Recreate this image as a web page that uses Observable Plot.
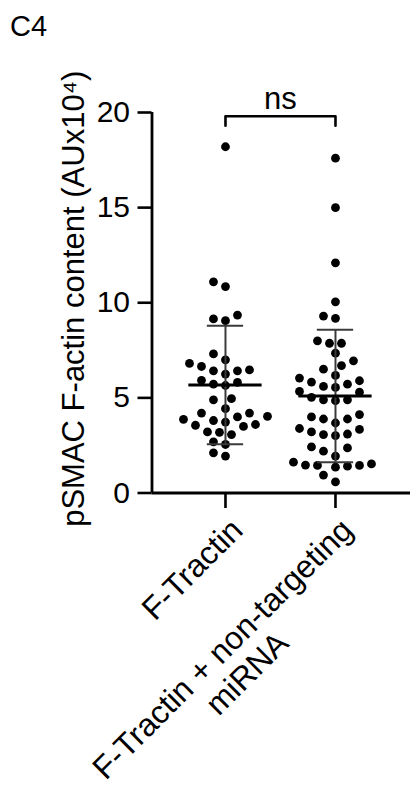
<!DOCTYPE html>
<html>
<head>
<meta charset="utf-8">
<script src="https://cdn.jsdelivr.net/npm/d3@7"></script>
<script src="https://cdn.jsdelivr.net/npm/@observablehq/plot@0.6"></script>
<style>
  html, body { margin: 0; padding: 0; background: #fff; }
  #chart { width: 417px; height: 792px; overflow: hidden; }
</style>
</head>
<body>
<div id="chart"></div>
<script>
// Categories (x axis), one label per group; "\n" breaks a label onto two lines
const groups = ["F-Tractin", "F-Tractin + non-targeting\nmiRNA"];

// pSMAC F-actin content per cell (AU x 10^4)
const fTractin = [
  18.2, 11.1, 10.85, 9.35, 9.15, 9.06,
  7.31, 7.0, 6.81, 6.65, 6.47, 6.42, 6.42, 6.25,
  5.92, 5.81, 5.72, 5.65,
  4.96, 4.9, 4.43, 4.2, 4.2, 4.03, 4.0,
  3.87, 3.81, 3.73, 3.6, 3.56, 3.5, 3.21, 3.19, 3.07,
  2.69, 2.55, 2.11, 1.94
];
const fTractinNonTargeting = [
  17.6, 15.0, 12.1, 10.05, 9.3, 9.18,
  8.0, 7.87, 7.87, 7.35,
  6.95, 6.7, 6.51, 6.18, 6.04,
  5.9, 5.83, 5.72, 5.6, 5.55, 5.34, 5.3,
  5.03, 4.9, 4.9, 4.85,
  4.12, 4.0, 3.89, 3.89, 3.68,
  3.39, 3.34, 3.21, 3.1, 3.07, 3.02,
  2.42, 2.37, 2.2, 1.94,
  1.62, 1.53, 1.47, 1.45, 1.45, 1.41, 1.36,
  0.94, 0.58
];
const series = [fTractin, fTractinNonTargeting];

// Value axis ticks, panel letter and the significance annotation
const yTicks = [0, 5, 10, 15, 20];
const yLabel = "pSMAC F-actin content (AUx10\u2074)";
const panel = "C4";
const significance = "ns";
const bracketTop = 19.8;
const bracketDrop = 0.5;

// Frame geometry
const width = 417, height = 792;
const marginLeft = 151.5, marginRight = 7, marginTop = 112, marginBottom = 299.5;
const xDomain = [-0.668, 1.682];
const yDomain = [0, 20];
const pxPerX = (width - marginLeft - marginRight) / (xDomain[1] - xDomain[0]);
const pxPerY = (height - marginTop - marginBottom) / (yDomain[1] - yDomain[0]);

const font = '"Liberation Sans", Arial, sans-serif';
const dotR = 4.4;
const tickLen = 14;

// Scatter layout: each dot (taken in value order) goes to the lane nearest
// the group centre where it does not collide with dots already placed.
function swarm(values, lane = 6, minDist = 11) {
  const order = d3.range(values.length).sort((a, b) => values[a] - values[b]);
  const placed = [];
  const offsets = new Array(values.length);
  for (const i of order) {
    const py = values[i] * pxPerY;
    for (let k = 0; k < 40; k++) {
      const cands = k === 0 ? [0] : [-k * lane, k * lane];
      const ok = cands.find(px => placed.every(p => Math.hypot(p.x - px, p.y - py) >= minDist));
      if (ok !== undefined) {
        offsets[i] = ok / pxPerX;
        placed.push({x: ok, y: py});
        break;
      }
    }
  }
  return offsets;
}

const points = series.flatMap((values, g) => {
  const off = swarm(values);
  return values.map((v, i) => ({group: g, value: v, offset: off[i]}));
});

// Mean ± SD per group
const stats = series.map((values, g) => ({
  group: g,
  mean: d3.mean(values),
  sd: d3.deviation(values)
}));

const bracket = [
  {x: 0, y: bracketTop - bracketDrop},
  {x: 0, y: bracketTop},
  {x: 1, y: bracketTop},
  {x: 1, y: bracketTop - bracketDrop}
];

// Category labels, rotated -45°: the first line ends under its tick, a
// second line is centred beneath the first
const measure = (() => {
  const ctx = document.createElement("canvas").getContext("2d");
  return (text, size) => { ctx.font = `${size}px ${font}`; return ctx.measureText(text).width; };
})();
const labelSize = 32;
const labelDx = 3, labelDy = 23, labelLead = 1.08;
const labelMarks = groups.flatMap((label, g) => {
  const [first, ...rest] = label.split("\n");
  const w1 = measure(first, labelSize);
  const marks = [Plot.text([{group: g, text: first}], {
    x: "group", y: () => 0, text: "text",
    rotate: -45, textAnchor: "end", lineAnchor: "top",
    fontSize: labelSize, fill: "black",
    dx: labelDx, dy: labelDy
  })];
  rest.forEach((line, j) => {
    const w = measure(line, labelSize);
    const back = (w1 - w) / 2;                    // shift back along the text direction
    const down = (j + 1) * labelLead * labelSize; // shift to the next line
    marks.push(Plot.text([{group: g, text: line}], {
      x: "group", y: () => 0, text: "text",
      rotate: -45, textAnchor: "end", lineAnchor: "top",
      fontSize: labelSize, fill: "black",
      dx: labelDx + Math.SQRT1_2 * (-back + down),
      dy: labelDy + Math.SQRT1_2 * (back + down)
    }));
  });
  return marks;
});

const chart = Plot.plot({
  width, height, marginLeft, marginRight, marginTop, marginBottom,
  style: {fontFamily: font, fontSize: "30px", color: "black", background: "white", overflow: "visible"},
  x: {domain: xDomain},
  y: {domain: yDomain},
  marks: [
    // axis ticks (labels drawn as text below)
    Plot.axisY({ticks: yTicks, tickSize: tickLen, strokeWidth: 2.6, tickFormat: () => "", label: null}),
    Plot.axisX({ticks: [0, 1], tickSize: 15.5, strokeWidth: 2.6, tickFormat: () => "", label: null}),
    Plot.text(yTicks, {x: () => xDomain[0], y: d => d, text: d => String(d), textAnchor: "end", dx: -(tickLen + 8), fontSize: 30, fill: "black"}),
    Plot.ruleX([xDomain[0]], {y1: yDomain[0], y2: yDomain[1], strokeWidth: 2.8, stroke: "black"}),
    Plot.ruleY([0], {strokeWidth: 2.8, stroke: "black"}),
    Plot.dot(points, {x: d => d.group + d.offset, y: "value", r: dotR, fill: "black", stroke: null}),
    Plot.ruleX(stats, {x: "group", y1: d => d.mean - d.sd, y2: d => d.mean + d.sd, stroke: "#3a3a3a", strokeWidth: 2}),
    Plot.ruleY(stats, {x1: d => d.group - 0.165, x2: d => d.group + 0.165, y: d => d.mean + d.sd, stroke: "#3a3a3a", strokeWidth: 2}),
    Plot.ruleY(stats, {x1: d => d.group - 0.165, x2: d => d.group + 0.165, y: d => d.mean - d.sd, stroke: "#3a3a3a", strokeWidth: 2}),
    Plot.ruleY(stats, {x1: d => d.group - 0.333, x2: d => d.group + 0.333, y: "mean", stroke: "black", strokeWidth: 3}),
    Plot.line(bracket, {x: "x", y: "y", stroke: "black", strokeWidth: 2.6}),
    Plot.text([significance], {x: () => 0.5, y: () => bracketTop, text: d => d, lineAnchor: "bottom", dy: -7, fontSize: 31, fill: "black"}),
    Plot.text([yLabel], {frameAnchor: "left", rotate: -90, dx: -68.5, dy: -4, textAnchor: "middle", lineAnchor: "bottom", fontSize: 31, fill: "black"}),
    Plot.text([panel], {frameAnchor: "top-left", dx: -142, dy: -77, textAnchor: "start", lineAnchor: "bottom", fontSize: 29, fill: "black"}),
    ...labelMarks
  ]
});

document.getElementById("chart").appendChild(chart);
</script>
</body>
</html>
